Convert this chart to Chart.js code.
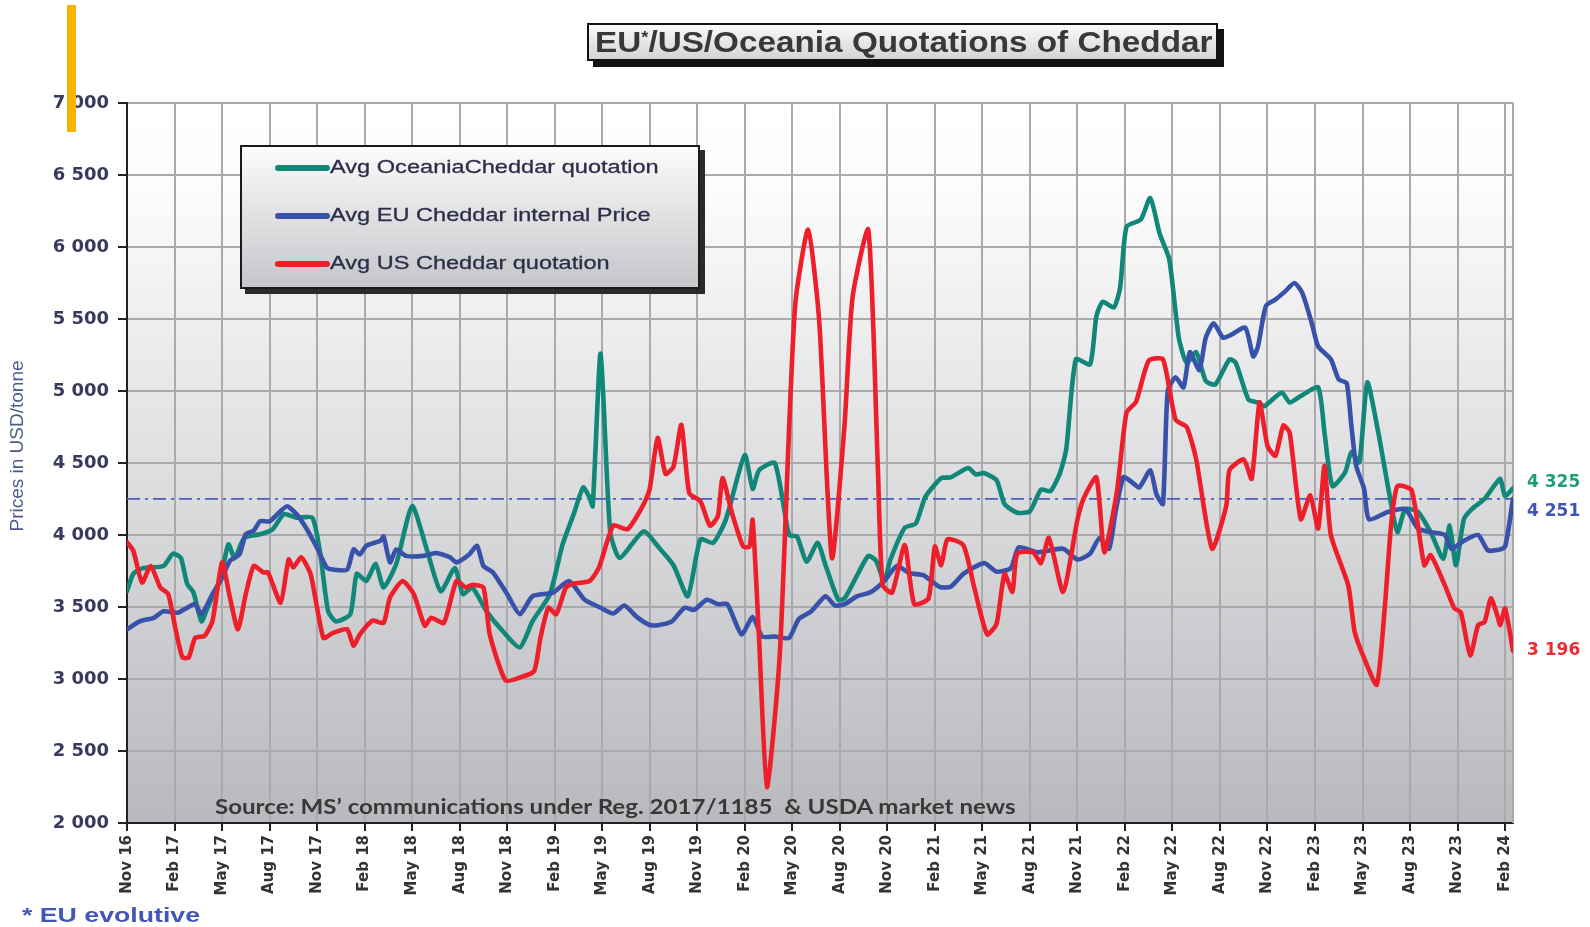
<!DOCTYPE html>
<html>
<head>
<meta charset="utf-8">
<title>EU/US/Oceania Quotations of Cheddar</title>
<script src="https://cdn.jsdelivr.net/npm/chart.js@4.4.1/dist/chart.umd.min.js"></script>
<style>
body { margin: 0; background: #fff; overflow: hidden; }
#wrap { position: relative; width: 1590px; height: 927px; }
#chart { position: absolute; left: 0; top: 0; }
.bar { position: absolute; left: 67px; top: 5px; width: 9px; height: 127px; background: #f6b400; }
.title-box {
    position: absolute; left: 587px; top: 23px; width: 627px; height: 34px;
    border: 2px solid #111; box-shadow: 6px 6px 0 #111;
    background: linear-gradient(#fafafa, #d4d4d6);
}
.title-box span.txt {
    position: absolute; left: 6px; top: 0; line-height: 34px; white-space: nowrap;
    font: bold 30px 'Liberation Sans', Arial, sans-serif; color: #383838; transform-origin: 0 50%;
}
.title-box sup { font-size: 55%; vertical-align: 9px; }
.legend {
    position: absolute; left: 240px; top: 145px; width: 456px; height: 140px;
    border: 2px solid #1a1a1a; box-shadow: 5px 5px 0 #2a2a2a;
    background: linear-gradient(#fbfbfb, #c5c6ca);
}
.legend .item { position: absolute; left: 0; height: 24px; width: 100%; }
.legend .swatch { position: absolute; left: 33px; top: 9px; width: 55px; height: 6px; border-radius: 3px; }
.legend .name {
    position: absolute; left: 88px; top: 0; line-height: 24px; white-space: nowrap;
    font: 19px 'Liberation Sans', Arial, sans-serif; color: #2c2d48; transform-origin: 0 50%;
    -webkit-text-stroke: 0.3px #2c2d48;
}
.source {
    position: absolute; left: 215px; top: 794px; line-height: 24px; white-space: pre;
    font: bold 20px Lato, 'Liberation Sans', sans-serif; color: #383838; transform-origin: 0 50%;
}
.note {
    position: absolute; left: 22px; top: 903px; line-height: 24px; white-space: nowrap;
    font: bold 21px 'Liberation Sans', Arial, sans-serif; color: #4256b8; transform-origin: 0 50%;
}
</style>
</head>
<body>
<div id="wrap">
    <canvas id="chart" width="1590" height="927"></canvas>
    <div class="bar"></div>
    <div class="title-box"><span class="txt" id="titleTxt">EU<sup>*</sup>/US/Oceania Quotations of Cheddar</span></div>
    <div class="legend" id="legend"></div>
    <div class="source" id="source">Source: MS’ communications under Reg. 2017/1185  &amp; USDA market news</div>
    <div class="note" id="note">* EU evolutive</div>
</div>
<script>
// months counted from Nov 2016 (0 = Nov 16)
const tickLabels = ['Nov 16', 'Feb 17', 'May 17', 'Aug 17', 'Nov 17', 'Feb 18', 'May 18', 'Aug 18', 'Nov 18', 'Feb 19',
    'May 19', 'Aug 19', 'Nov 19', 'Feb 20', 'May 20', 'Aug 20', 'Nov 20', 'Feb 21', 'May 21', 'Aug 21',
    'Nov 21', 'Feb 22', 'May 22', 'Aug 22', 'Nov 22', 'Feb 23', 'May 23', 'Aug 23', 'Nov 23', 'Feb 24'];
const yTicks = [2000, 2500, 3000, 3500, 4000, 4500, 5000, 5500, 6000, 6500, 7000];

const seriesNames = ['Avg OceaniaCheddar quotation', 'Avg EU Cheddar internal Price', 'Avg US Cheddar quotation'];

const oceaniaMonths = [0, 0.4, 1, 2.3, 2.9, 3.4, 3.8, 4.2, 4.7, 5.1, 5.9, 6.4, 6.8, 7.4, 8.4, 9.2, 9.9, 10.7, 11.7, 12.2,
    12.7, 13.2, 14.1, 14.5, 15.1, 15.7, 16.2, 17, 18, 18.9, 19.8, 20.7, 21.2, 21.8, 22.7, 23.7, 24.8, 25.6, 26.7, 27.5,
    28.2, 28.8, 29.2, 29.4, 29.9, 30.5, 31.1, 32.6, 33.6, 34.5, 35.4, 36.2, 37, 37.8, 39, 39.5, 39.9, 40.9, 41.8, 42.3,
    42.9, 43.6, 44.1, 44.9, 45.3, 46, 46.8, 47.3, 47.8, 48.2, 49.1, 49.8, 50.4, 51.4, 52, 53.1, 53.6, 54.1, 54.9, 55.4,
    56.2, 57, 57.7, 58.3, 58.9, 59.3, 59.9, 60.8, 61.2, 61.6, 62.3, 62.7, 63.1, 64, 64.6, 65.2, 65.8, 66.4, 66.9, 67.5,
    68.1, 68.7, 69.6, 70, 70.8, 71.4, 71.8, 72.9, 73.4, 74.1, 75.2, 75.6, 76.1, 76.9, 77.3, 77.8, 78.3, 79, 79.6, 80.2,
    80.7, 81.5, 82.3, 83.1, 83.5, 83.9, 84.4, 84.9, 85.7, 86.3, 86.7, 87, 87.5];
const oceaniaPrices = [3610, 3730, 3770, 3785, 3870, 3840, 3660, 3600, 3400, 3500, 3700, 3935, 3840, 3980, 4005, 4040, 4145, 4120, 4120, 3870,
    3470, 3400, 3450, 3730, 3680, 3800, 3635, 3800, 4200, 3910, 3610, 3770, 3590, 3635, 3470, 3335, 3220, 3400, 3590, 3935,
    4145, 4330, 4260, 4200, 5260, 4025, 3840, 4025, 3910, 3790, 3575, 3970, 3945, 4105, 4555, 4320, 4450, 4500, 4000, 3990,
    3815, 3945, 3790, 3550, 3560, 3700, 3855, 3820, 3680, 3830, 4050, 4080, 4265, 4395, 4400, 4465, 4420, 4430, 4380, 4215,
    4155, 4165, 4315, 4305, 4430, 4600, 5220, 5185, 5520, 5620, 5580, 5720, 6140, 6190, 6340, 6090, 5915, 5370, 5195, 5270,
    5070, 5045, 5220, 5195, 4940, 4920, 4895, 4990, 4920, 4965, 5025, 4710, 4340, 4435, 4575, 4505, 5060, 4710, 4340, 4020,
    4180, 4160, 4020, 3835, 4065, 3790, 4110, 4180, 4250, 4340, 4390, 4270, 4325];

const euMonths = [0, 0.8, 1.7, 2.3, 3.2, 3.8, 4.3, 4.7, 5.4, 5.9, 6.5, 7.1, 7.5, 8, 8.4, 9, 9.5, 10.1, 10.7, 11.3,
    12, 12.6, 13, 13.9, 14.3, 14.7, 15.1, 16, 16.2, 16.6, 17, 17.6, 18.7, 19.5, 20.4, 20.8, 21.6, 22.1, 22.5, 23.1,
    24, 24.8, 25.6, 26.9, 27.9, 28.9, 29.9, 30.7, 31.4, 32.2, 33, 33.6, 34.4, 35.2, 35.8, 36.6, 37.3, 37.9, 38.8, 39.5,
    40.1, 40.9, 41.8, 42.4, 43.2, 44.1, 44.7, 45.3, 46.1, 46.9, 47.8, 48.6, 49.4, 50.3, 51.3, 52, 52.8, 54.1, 54.9, 55.8,
    56.3, 57.5, 59.1, 60, 60.8, 61.4, 62, 62.4, 62.9, 63.4, 63.9, 64.6, 65, 65.4, 65.7, 66.2, 66.7, 67.1, 67.7, 68.1,
    68.6, 69.2, 69.7, 70.6, 71.1, 71.4, 71.9, 72.5, 73.1, 73.7, 74.2, 74.8, 75.2, 76, 76.5, 77, 77.3, 77.6, 78.1, 78.4,
    79.6, 80.7, 81.5, 82.3, 83.2, 83.6, 84.4, 85.3, 85.9, 86.5, 87, 87.5];
const euPrices = [3345, 3400, 3425, 3470, 3460, 3495, 3520, 3450, 3590, 3680, 3820, 3865, 4005, 4030, 4095, 4095, 4145, 4200, 4145, 4050,
    3910, 3775, 3760, 3760, 3900, 3865, 3925, 3960, 3990, 3810, 3900, 3855, 3855, 3875, 3845, 3810, 3865, 3925, 3785, 3740,
    3590, 3450, 3575, 3600, 3680, 3550, 3495, 3455, 3510, 3430, 3375, 3375, 3400, 3495, 3480, 3550, 3520, 3520, 3310, 3430,
    3295, 3295, 3285, 3415, 3470, 3575, 3510, 3520, 3575, 3600, 3680, 3785, 3735, 3720, 3640, 3640, 3730, 3805, 3745, 3770,
    3915, 3880, 3905, 3830, 3870, 3980, 3905, 4155, 4400, 4370, 4330, 4450, 4280, 4215, 5000, 5095, 5025, 5270, 5145, 5370,
    5470, 5370, 5390, 5440, 5240, 5310, 5590, 5635, 5690, 5750, 5680, 5470, 5310, 5220, 5080, 5055, 4755, 4480, 4320, 4110,
    4160, 4180, 4045, 4020, 4000, 3905, 3960, 4000, 3895, 3895, 3920, 4251];

const usMonths = [0, 0.4, 0.95, 1.5, 2.1, 2.6, 3.05, 3.5, 3.9, 4.3, 4.9, 5.4, 6, 6.5, 7, 7.5, 8, 8.6, 8.9, 9.7,
    10.2, 10.5, 11, 11.6, 12.4, 13, 13.9, 14.3, 14.7, 15.5, 16.2, 16.6, 17.4, 18.1, 18.8, 19.2, 20, 20.8, 21.4, 21.8,
    22.5, 22.9, 23.9, 24.8, 25.7, 26.1, 26.6, 27.1, 27.7, 28.1, 29.2, 29.8, 30.7, 31.6, 32.6, 33, 33.5, 34, 34.5, 35,
    35.5, 36.2, 36.8, 37.3, 37.6, 38.2, 38.9, 39.3, 39.5, 39.9, 40.4, 41.2, 41.8, 42.2, 43, 43.7, 44.5, 45.3, 45.8, 46.8,
    47.4, 47.7, 48.3, 49.1, 49.7, 50.6, 51, 51.4, 51.8, 52.8, 53.5, 54.3, 54.9, 55.4, 55.9, 56.2, 57.2, 57.7, 58.2, 59.1,
    60, 60.4, 61.2, 61.7, 62.5, 63.1, 63.7, 64.5, 65.4, 66.2, 66.9, 67.5, 68.5, 69.4, 69.6, 70.5, 71, 71.5, 72, 72.5,
    73, 73.4, 74.1, 74.7, 75.2, 75.6, 76, 77.1, 77.5, 78.1, 78.9, 79.4, 79.8, 80.2, 81.1, 81.9, 82.3, 83.2, 83.8, 84.2,
    84.8, 85.3, 85.7, 86.1, 86.5, 86.7, 87, 87.5];
const usPrices = [3950, 3890, 3670, 3785, 3635, 3590, 3355, 3150, 3150, 3285, 3300, 3405, 3810, 3565, 3345, 3590, 3785, 3740, 3740, 3530,
    3830, 3775, 3845, 3725, 3285, 3320, 3345, 3230, 3310, 3405, 3390, 3565, 3680, 3590, 3370, 3425, 3390, 3680, 3635, 3655,
    3635, 3310, 2990, 3010, 3055, 3285, 3495, 3450, 3635, 3660, 3680, 3775, 4065, 4040, 4210, 4320, 4675, 4425, 4475, 4765,
    4290, 4235, 4065, 4130, 4395, 4150, 3920, 3920, 4105, 3285, 2250, 3150, 4740, 5615, 6120, 5485, 3840, 4765, 5645, 6120,
    4475, 3655, 3600, 3930, 3520, 3560, 3920, 3790, 3970, 3930, 3630, 3310, 3385, 3730, 3605, 3870, 3880, 3805, 3980, 3605,
    4105, 4255, 4400, 3880, 4305, 4850, 4925, 5210, 5220, 4800, 4750, 4525, 3905, 4205, 4450, 4525, 4390, 4920, 4620, 4550,
    4760, 4710, 4110, 4275, 4045, 4480, 4000, 3650, 3330, 3145, 2960, 3490, 4065, 4340, 4310, 3790, 3860, 3650, 3490, 3465,
    3165, 3375, 3395, 3560, 3445, 3375, 3490, 3196];

const lineColors = ['#11877a', '#3852a9', '#ee1f2b'];
const endLabelColors = ['#1f9c78', '#3f55b5', '#ee2a35'];
const endLabelShift = [-6, 13, 0];

const pts = (xs, ys) => xs.map((x, i) => ({x: x, y: ys[i]}));
const fmt = v => String(v).replace(/\B(?=(\d{3})+(?!\d))/g, ' ');
const lastOf = a => a[a.length - 1];

const seriesData = [pts(oceaniaMonths, oceaniaPrices), pts(euMonths, euPrices), pts(usMonths, usPrices)];
const lastValues = [lastOf(oceaniaPrices), lastOf(euPrices), lastOf(usPrices)];

// legend box
const legend = document.getElementById('legend');
seriesNames.forEach((name, i) => {
    let item = document.createElement('div');
    item.className = 'item';
    item.style.top = (9 + i * 48) + 'px';
    item.innerHTML = '<span class="swatch" style="background:' + lineColors[i] + '"></span><span class="name">' + name + '</span>';
    legend.appendChild(item);
});

// stretch texts to the widths they have in the picture
const fitWidth = (el, w) => { el.style.transform = 'scaleX(' + (w / el.offsetWidth) + ')'; };
fitWidth(document.getElementById('titleTxt'), 618);
const legendWidths = [329, 320, 280];
document.querySelectorAll('.legend .name').forEach((el, i) => fitWidth(el, legendWidths[i]));
fitWidth(document.getElementById('source'), 800);
fitWidth(document.getElementById('note'), 178);

const plotDecor = {
    id: 'plotDecor',
    beforeDraw(chart) {
        const {ctx, chartArea: a} = chart;
        let g = ctx.createLinearGradient(0, a.top, 0, a.bottom);
        g.addColorStop(0, '#ffffff');
        g.addColorStop(0.12, '#fcfcfc');
        g.addColorStop(1, '#b8b9bd');
        ctx.save();
        ctx.fillStyle = g;
        ctx.fillRect(a.left, a.top, a.right - a.left, a.bottom - a.top);
        ctx.restore();
    },
    beforeDatasetsDraw(chart) {
        const {ctx, chartArea: a} = chart;
        const yy = chart.scales.y.getPixelForValue(lastOf(euPrices));
        ctx.save();
        ctx.strokeStyle = '#a9a9ac';
        ctx.lineWidth = 2;
        ctx.beginPath();
        ctx.moveTo(a.right, a.top);
        ctx.lineTo(a.right, a.bottom);
        ctx.stroke();
        ctx.strokeStyle = '#4a5fc0';
        ctx.lineWidth = 1.6;
        ctx.setLineDash([13, 5, 3, 5]);
        ctx.beginPath();
        ctx.moveTo(a.left, yy);
        ctx.lineTo(a.right, yy);
        ctx.stroke();
        ctx.restore();
    },
    afterDraw(chart) {
        const {ctx, chartArea: a} = chart;
        ctx.save();
        // y axis title
        ctx.translate(18, 446);
        ctx.rotate(-Math.PI / 2);
        ctx.font = "19px 'Liberation Sans', Arial, sans-serif";
        ctx.fillStyle = '#4b5b8e';
        ctx.textAlign = 'center';
        ctx.textBaseline = 'middle';
        ctx.fillText('Prices in USD/tonne', 0, 0);
        ctx.restore();
        // last values at the right edge
        ctx.save();
        ctx.font = "bold 17px 'DejaVu Sans', sans-serif";
        ctx.textBaseline = 'middle';
        lastValues.forEach((v, i) => {
            ctx.fillStyle = endLabelColors[i];
            ctx.fillText(fmt(v), a.right + 14, chart.scales.y.getPixelForValue(v) + endLabelShift[i]);
        });
        ctx.restore();
    }
};

const gridColor = '#aaaaad';

new Chart(document.getElementById('chart'), {
    type: 'line',
    data: {
        datasets: [
            {label: seriesNames[2], data: seriesData[2], borderColor: lineColors[2], order: 0},
            {label: seriesNames[1], data: seriesData[1], borderColor: lineColors[1], order: 1},
            {label: seriesNames[0], data: seriesData[0], borderColor: lineColors[0], order: 2}
        ]
    },
    options: {
        responsive: false,
        animation: false,
        layout: {padding: {top: 103, right: 77, left: 0, bottom: 0}},
        elements: {
            line: {borderWidth: 4.6, tension: 0.2, borderCapStyle: 'round', borderJoinStyle: 'round'},
            point: {radius: 0, hoverRadius: 0}
        },
        plugins: {legend: {display: false}, tooltip: {enabled: false}},
        scales: {
            x: {
                type: 'linear',
                min: 0,
                max: 87.5,
                afterBuildTicks: s => { s.ticks = tickLabels.map((t, i) => ({value: i * 3})); },
                afterFit: s => { s.height = 104; },
                ticks: {
                    autoSkip: false,
                    minRotation: 90,
                    maxRotation: 90,
                    padding: 4,
                    color: '#333333',
                    font: {family: "'DejaVu Sans', sans-serif", size: 15, weight: 'bold'},
                    callback: v => tickLabels[Math.round(v / 3)]
                },
                grid: {color: gridColor, lineWidth: 2, tickLength: 8, tickColor: '#222'},
                border: {color: '#222', width: 2}
            },
            y: {
                min: 2000,
                max: 7000,
                afterBuildTicks: s => { s.ticks = yTicks.map(v => ({value: v})); },
                afterFit: s => { s.width = 127; },
                ticks: {
                    padding: 9,
                    color: '#363a5c',
                    font: {family: "'DejaVu Sans', sans-serif", size: 18, weight: 'bold'},
                    callback: v => fmt(v)
                },
                grid: {color: gridColor, lineWidth: 2, tickLength: 9, tickColor: '#222'},
                border: {color: '#222', width: 2}
            }
        }
    },
    plugins: [plotDecor]
});
</script>
</body>
</html>
